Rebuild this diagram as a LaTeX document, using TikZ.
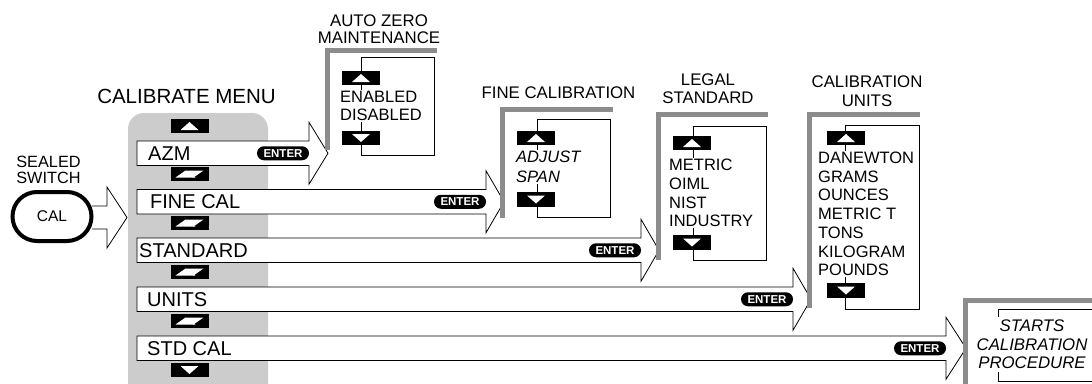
\documentclass[tikz,border=0pt]{standalone}
\usepackage{fontspec}
\setmainfont{Liberation Sans}
\usetikzlibrary{positioning}

\tikzset{
	menubar/.style={draw=black, fill=white, line width=0.8pt},
	keybox/.style={fill=black, minimum width=38pt, minimum height=14.5pt, inner sep=0pt},
	enterkey/.style={fill=black, text=white, rounded corners=7pt, minimum width=52pt, minimum height=14pt, inner sep=0pt, font=\fontsize{11.5}{12}\selectfont\bfseries},
	bracket/.style={draw=black!45, line width=5pt},
	panelbox/.style={draw=black, line width=0.8pt},
	itemtext/.style={fill=white, inner xsep=1pt, inner ysep=1.5pt, align=left, anchor=west, font=\fontsize{16.5}{18.7}\selectfont},
	headtext/.style={align=center, inner sep=0pt, font=\fontsize{16.8}{18}\selectfont}
}

% key boxes: name, position
\newcommand{\upkey}[2]{%
	\node[keybox] (#1) at (#2) {};
	\fill[white] ([shift={(-9,4)}]#1.center) -- ([shift={(9,4)}]#1.center) -- ([shift={(0,-4)}]#1.center) -- cycle;}
\newcommand{\dnkey}[2]{%
	\node[keybox] (#1) at (#2) {};
	\fill[white] ([shift={(-9,-4)}]#1.center) -- ([shift={(9,-4)}]#1.center) -- ([shift={(0,4)}]#1.center) -- cycle;}
\newcommand{\udkey}[2]{%
	\node[keybox] (#1) at (#2) {};
	\fill[white] ([shift={(-14,3.5)}]#1.center) -- ([shift={(-4,-3.5)}]#1.center) -- ([shift={(6,3.5)}]#1.center) -- cycle;
	\fill[white] ([shift={(-4,-3.5)}]#1.center) -- ([shift={(14,-3.5)}]#1.center) -- ([shift={(4,3.5)}]#1.center) -- cycle;}

\begin{document}
\begin{tikzpicture}[x=1pt, y=-1pt]
	\useasboundingbox (0,0) rectangle (1092,383);
	\clip (0,0) rectangle (1092,383);
	
	% menu panel
	\fill[gray!40, rounded corners=16pt] (128,113) rectangle (268,400);
	\node[inner sep=0pt, font=\fontsize{20.5}{22}\selectfont] (menuhead) at (186.5,96.5) {CALIBRATE MENU};
	
	% sealed switch
	\node[headtext, font=\fontsize{16.3}{16.5}\selectfont] (switchhead) at (48.5,170) {SEALED\\SWITCH};
	\draw[menubar] ([yshift=10.5pt]52,216.5) ++(40,0) -- (107,206) -- (107,187) -- (127,217.5) -- (107,248) -- (107,229) -- (92,229);
	\node[draw, line width=4pt, fill=white, rounded corners=24.5pt, minimum width=79pt, minimum height=49pt, font=\fontsize{15.5}{18}\selectfont] (cal) at (52,216.5) {CAL};
	
	% menu entries
	\foreach \y/\base/\tip/\tx/\lbl/\nm in {153.25/309/328/148/AZM/azm, 201.75/486/504/150/FINE CAL/fine, 250.25/641/659/139/STANDARD/std, 299.25/793/811/147/UNITS/units, 348.25/946/966/147/STD CAL/stdcal}{
		\draw[menubar] (137,\y-12.25) -- (\base,\y-12.25) -- (\base,\y-31) -- (\tip,\y) -- (\base,\y+31) -- (\base,\y+12.25) -- (137,\y+12.25) -- cycle;
		\node[anchor=west, inner sep=0pt, font=\fontsize{20}{22}\selectfont] (\nm) at (\tx,\y) {\lbl};
		\node[enterkey] (\nm-enter) at (\base-26,\y) {ENTER};
	}
	
	% menu keys
	\upkey{mk0}{189.5,126}
	\foreach \y [count=\i] in {174,223,272,321}{
		\udkey{mk\i}{189.5,\y}
	}
	\dnkey{mk5}{189.5,370}
	
	% auto zero maintenance
	\draw[panelbox] (361,57) rectangle (434,155);
	\upkey{azmup}{361,78}
	\node[itemtext, font=\fontsize{16.5}{18}\selectfont] (azmitems) at (339,106) {ENABLED\\DISABLED};
	\dnkey{azmdn}{361,138}
	\draw[bracket] (327,150) -- (327,50) -- (437,50);
	\node[headtext, font=\fontsize{16.8}{16.5}\selectfont] (azmhead) at (379,29.25) {AUTO ZERO\\MAINTENANCE};
	
	% fine calibration
	\draw[panelbox] (537,119) rectangle (610,217);
	\upkey{fineup}{536,138}
	\node[itemtext, font=\fontsize{16.5}{20}\selectfont\itshape] (fineitems) at (515,167) {ADJUST\\SPAN};
	\dnkey{finedn}{536,199.5}
	\draw[bracket] (502.5,218) -- (502.5,109) -- (613,109);
	\node[headtext] (finehead) at (558.5,93) {FINE CALIBRATION};
	
	% legal standard
	\draw[panelbox] (693,126) rectangle (766,260);
	\upkey{legalup}{692,143}
	\node[itemtext] (legalitems) at (668,193) {METRIC\\OIML\\NIST\\INDUSTRY};
	\dnkey{legaldn}{692,242.5}
	\draw[bracket] (658,260) -- (658,114) -- (768,114);
	\node[headtext] (legalhead) at (708,89) {LEGAL\\STANDARD};
	
	% calibration units
	\draw[panelbox] (845,125) rectangle (919,309);
	\upkey{unitsup}{846,138}
	\node[itemtext] (unititems) at (817,214) {DANEWTON\\GRAMS\\OUNCES\\METRIC T\\TONS\\KILOGRAM\\POUNDS};
	\dnkey{unitsdn}{846,290.5}
	\draw[bracket] (809.5,308) -- (809.5,114) -- (920,114);
	\node[headtext, font=\fontsize{16.8}{19.5}\selectfont] (unitshead) at (867,91.25) {CALIBRATION\\UNITS};
	
	% calibration procedure
	\draw[panelbox] (1100,309) -- (998,309) -- (998,381) -- (1100,381);
	\node[itemtext, align=center, anchor=center, inner ysep=3pt, font=\fontsize{16.8}{18.3}\selectfont\itshape] (starts) at (1032,344.3) {STARTS\\CALIBRATION\\PROCEDURE};
	\draw[bracket] (965,400) -- (965,300) -- (1100,300);
\end{tikzpicture}
\end{document}
